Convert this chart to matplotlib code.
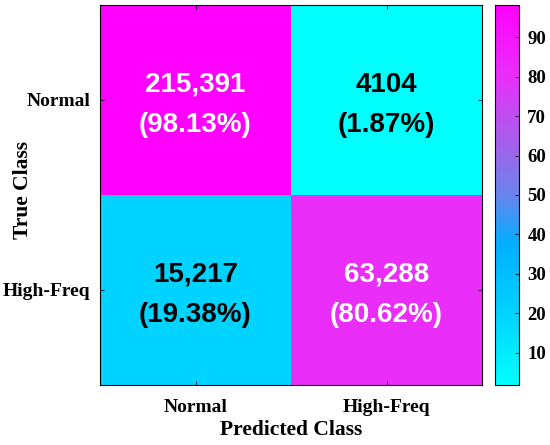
import numpy as np
import matplotlib
matplotlib.use('Agg')
import matplotlib.pyplot as plt
from matplotlib.colors import LinearSegmentedColormap

#%% DATA
# ----------------------
classes = ['Normal', 'High-Freq']
counts = np.array([[215391, 4104],
                   [15217, 63288]])
percents = np.array([[98.13, 1.87],
                     [19.38, 80.62]])
cbar_ticks = [10, 20, 30, 40, 50, 60, 70, 80, 90]
# ----------------------

#%% COLORMAP
# ----------------------
cmap = LinearSegmentedColormap.from_list('cyan_magenta', [
    (0.00, (0/255, 255/255, 255/255)),
    (0.18, (0/255, 212/255, 255/255)),
    (0.37, (0/255, 175/255, 255/255)),
    (0.50, (105/255, 132/255, 238/255)),
    (0.60, (150/255, 105/255, 235/255)),
    (0.72, (195/255, 75/255, 240/255)),
    (0.82, (235/255, 45/255, 250/255)),
    (1.00, (255/255, 0/255, 255/255)),
])
# ----------------------

#%% PLOT
# ----------------------
fig = plt.figure(figsize=(5.5, 4.45), dpi=100)
ax = fig.add_axes([100/550, 1-385/445, 382/550, 380/445])
cax = fig.add_axes([495/550, 1-385/445, 24/550, 380/445])

im = ax.imshow(percents, cmap=cmap, vmin=percents.min(), vmax=percents.max(),
               aspect='auto', interpolation='nearest')

for i in range(2):
    for j in range(2):
        txt_col = 'white' if percents[i, j] > 50 else 'black'
        n = counts[i, j]
        s = '{:,}'.format(n) if n >= 10000 else str(n)
        kw = dict(ha='center', va='center', color=txt_col, fontsize=20,
                  fontweight='bold', family='Liberation Sans')
        ax.text(j, i - 0.08, s, **kw)
        ax.text(j, i + 0.13, '({0:.2f}%)'.format(percents[i, j]), **kw)

serif = {'family': 'Liberation Serif', 'weight': 'bold'}
ax.set_xticks([0, 1])
ax.set_yticks([0, 1])
ax.set_xticklabels(classes, fontdict=serif, fontsize=14)
ax.set_yticklabels(classes, fontdict=serif, fontsize=14)
ax.set_xlabel('Predicted Class', fontdict=serif, fontsize=15.5, labelpad=3)
ax.set_ylabel('True Class', fontdict=serif, fontsize=15.5)
ax.yaxis.set_label_coords(-0.175, 0.513)
ax.tick_params(length=3, width=0.6, direction='in', pad=7, top=True, right=True)
ax.tick_params(axis='x', pad=10)

cb = fig.colorbar(im, cax=cax, ticks=cbar_ticks)
cb.ax.tick_params(length=3, width=0.6, direction='in', pad=6)
for lbl in cb.ax.get_yticklabels():
    lbl.set_family('Liberation Serif')
    lbl.set_fontweight('bold')
    lbl.set_fontsize(13.5)
cb.outline.set_linewidth(0.8)

fig.savefig('out.png', dpi=100)
# ----------------------
